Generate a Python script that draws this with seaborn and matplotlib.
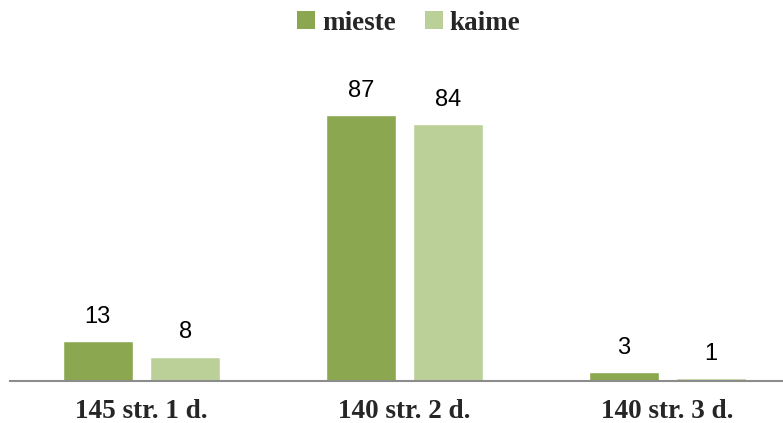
import matplotlib
matplotlib.use("Agg")
import matplotlib.pyplot as plt
from matplotlib.patches import Patch
import seaborn as sns
import pandas as pd

# chart values
categories = ["145 str. 1 d.", "140 str. 2 d.", "140 str. 3 d."]
series_names = ["mieste", "kaime"]
mieste = [13, 87, 3]
kaime = [8, 84, 1]
colors = ["#8BA851", "#BBD098"]

df = pd.DataFrame({
    "category": categories * 2,
    "series": [series_names[0]] * 3 + [series_names[1]] * 3,
    "value": mieste + kaime,
})

sns.set_style("white")
plt.rcParams["font.family"] = ["Liberation Sans", "DejaVu Sans"]

W, H = 783, 423
fig = plt.figure(figsize=(W / 100, H / 100), dpi=100)
left, base, step = 10, 381, 263
ax = fig.add_axes([left / W, 1 - base / H, (W - left) / W, 306 / H])

sns.barplot(data=df, x="category", y="value", hue="series", order=categories,
            hue_order=series_names, palette=colors, width=0.666, gap=0.2,
            saturation=1, ax=ax, legend=False)

ax.set_xlim(-0.5, -0.5 + (W - left) / step)
ax.set_ylim(0, 100)

# value labels
for container in ax.containers:
    for bar in container:
        h = bar.get_height()
        ax.annotate(f"{h:g}", (bar.get_x() + bar.get_width() / 2, h),
                    xytext=(0, 13), textcoords="offset points",
                    ha="center", va="baseline", fontsize=17, color="#000000")

for s in ["top", "right", "left"]:
    ax.spines[s].set_visible(False)
ax.spines["bottom"].set_color("#8C8C8C")
ax.spines["bottom"].set_linewidth(1.5)
ax.set_yticks([])
ax.set_xlabel("")
ax.set_ylabel("")
ax.tick_params(axis="x", length=0, pad=13)
for lbl in ax.get_xticklabels():
    lbl.set_fontfamily(["Liberation Serif", "DejaVu Serif"])
    lbl.set_fontweight("bold")
    lbl.set_fontsize(19.5)

handles = [Patch(facecolor=c, edgecolor="none") for c in colors]
fig.legend(handles, series_names, loc="center", bbox_to_anchor=(409 / W, 1 - 23 / H),
           ncol=2, frameon=False, handlelength=0.65, handleheight=0.65,
           handletextpad=0.25, columnspacing=1.1,
           prop={"family": ["Liberation Serif", "DejaVu Serif"], "weight": "bold", "size": 19.5})

fig.savefig("out.png", dpi=100)
